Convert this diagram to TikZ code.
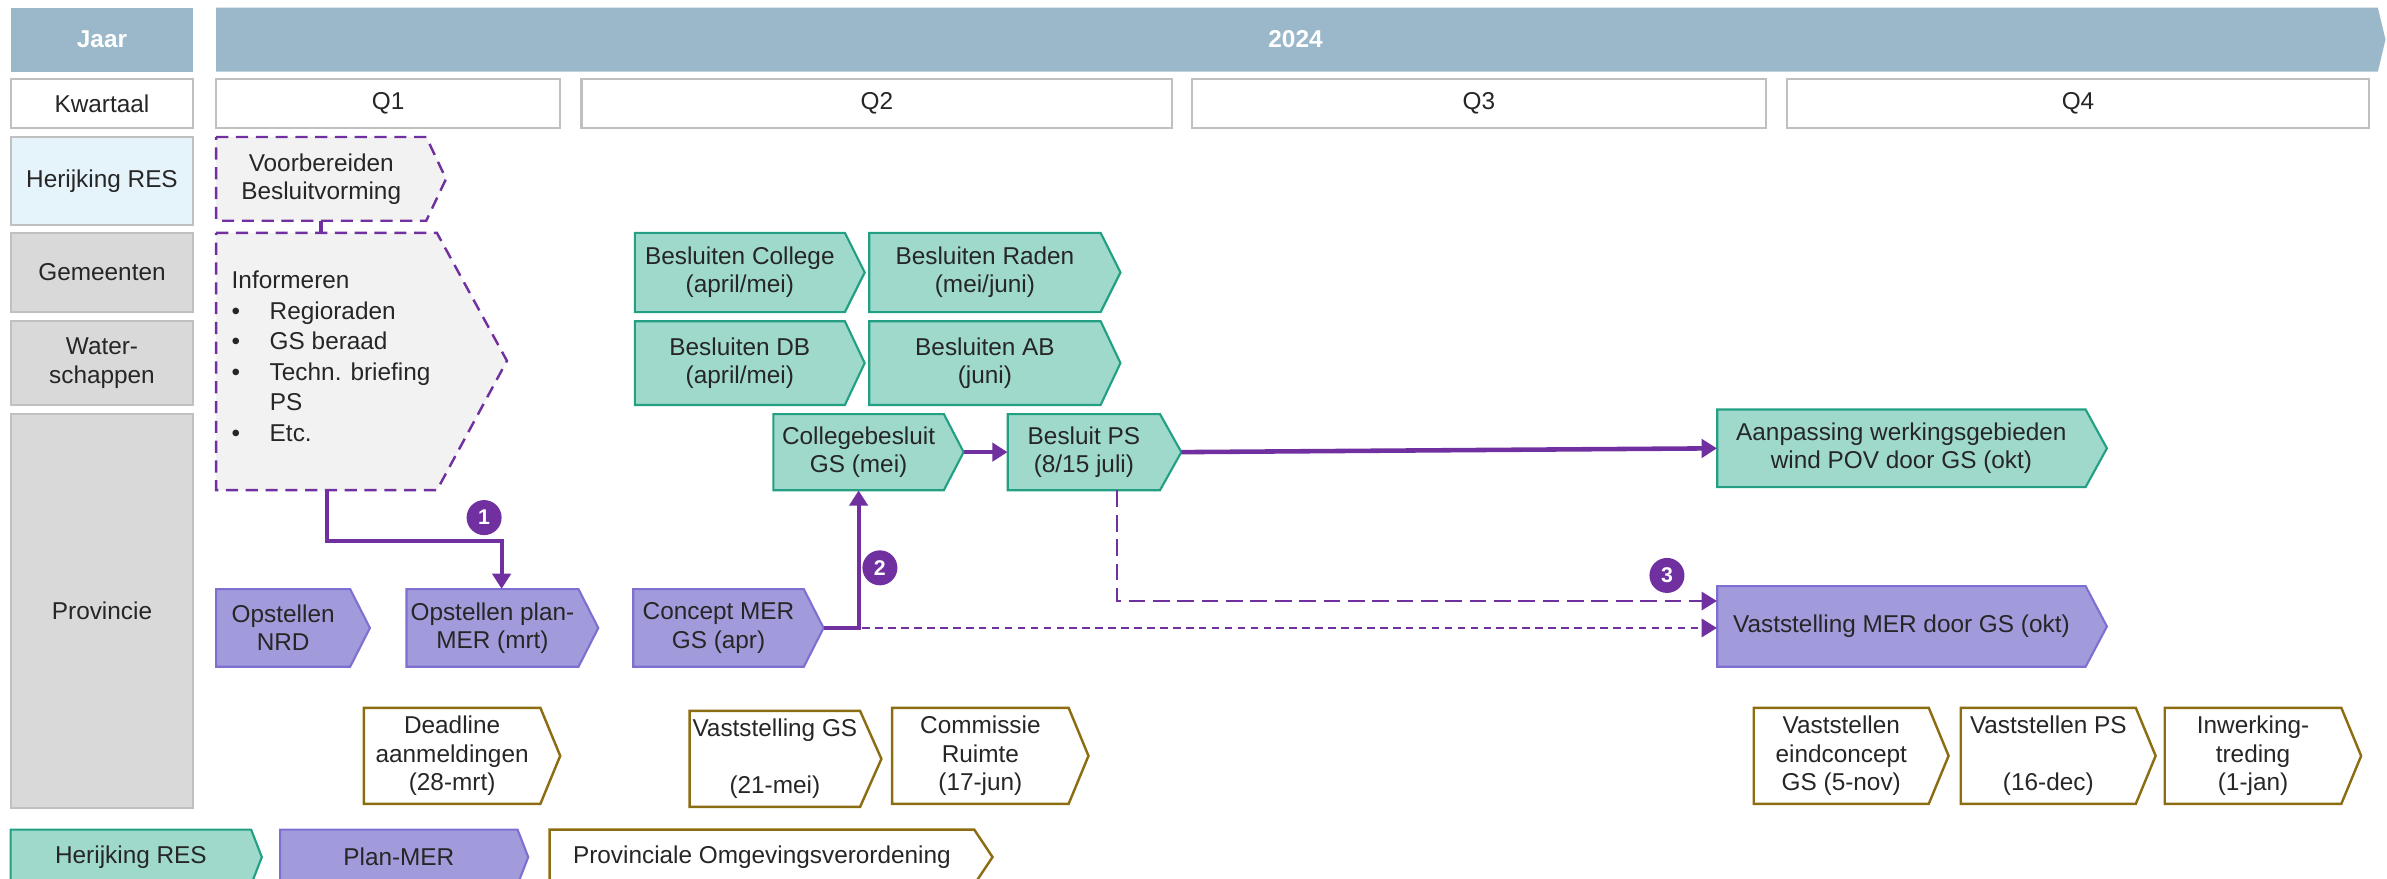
\documentclass[tikz,border=0pt]{standalone}
\usepackage{fontspec}
\setmainfont{Liberation Sans}
\usetikzlibrary{arrows.meta,calc}
\definecolor{yearblue}{HTML}{9BB8CB}
\definecolor{labgray}{HTML}{D9D9D9}
\definecolor{labline}{HTML}{C0C0C0}
\definecolor{reslight}{HTML}{E5F3FA}
\definecolor{grfill}{HTML}{9ED9CC}
\definecolor{grline}{HTML}{23A083}
\definecolor{pufill}{HTML}{A29BDB}
\definecolor{puline}{HTML}{7D70D0}
\definecolor{darkpu}{HTML}{7030A0}
\definecolor{olive}{HTML}{8C6D12}
\definecolor{lightfill}{HTML}{F2F2F2}
\definecolor{txtc}{HTML}{262626}
\newcommand\chev[8]{%
  \pgfmathsetmacro\cw{#5-#3}\pgfmathsetmacro\ch{#6-#4}%
  \pgfmathsetmacro\cx{(#3+#5)/2}\pgfmathsetmacro\cy{(#4+#6)/2}%
  \draw[#2] (#3,#4) -- (#5,#4) -- (#7,\cy) -- (#5,#6) -- (#3,#6) -- cycle;
  \node[txt, minimum width=\cw pt, minimum height=\ch pt] (#1) at (\cx,\cy) {#8};
  \coordinate (#1-tip) at (#7,\cy);
}
\begin{document}
\begin{tikzpicture}[x=1pt,y=-1pt,
  txt/.style={inner sep=0pt, align=center, text=txtc, font=\fontsize{16}{18.6}\selectfont},
  lab/.style={txt, draw=labline, line width=1.4pt, fill=labgray},
  qbox/.style={txt, draw=labline, line width=1.4pt, fill=white},
  hdr/.style={inner sep=0pt, text=white, font=\fontsize{16}{18}\selectfont\bfseries},
  grbox/.style={fill=grfill, draw=grline, line width=1.4pt},
  pubox/.style={fill=pufill, draw=puline, line width=1.4pt},
  olbox/.style={fill=white, draw=olive, line width=1.6pt},
  dashbox/.style={fill=lightfill, draw=darkpu, line width=1.6pt, dash pattern=on 8pt off 5pt},
  conn/.style={draw=darkpu, line width=2.6pt},
  dconn/.style={draw=darkpu, line width=1.4pt, dash pattern=on 11pt off 5pt},
  sconn/.style={draw=darkpu, line width=1.6pt, dash pattern=on 5pt off 3.5pt},
  tip/.style={-{Triangle[length=10pt,width=12pt]}},
  num/.style={circle, fill=darkpu, inner sep=0pt, minimum size=23pt, text=white, font=\fontsize{14}{14}\selectfont\bfseries}
]
\useasboundingbox (0,0) rectangle (1568,577);
% header
\node[hdr, fill=yearblue, minimum width=120pt, minimum height=42pt] (jaar) at (67,26) {Jaar};
\fill[yearblue] (142,5) -- (1562,5) -- (1567,26) -- (1562,47) -- (142,47) -- cycle;
\node[hdr] (y2024) at (851,26) {2024};
% kwartaal row
\node[qbox, minimum width=120pt, minimum height=32pt] (kw) at (67,68) {Kwartaal};
\node[qbox, minimum width=226pt, minimum height=32pt] (q1) at (255,68) {Q1};
\node[qbox, minimum width=388pt, minimum height=32pt] (q2) at (576,68) {Q2};
\node[qbox, minimum width=377pt, minimum height=32pt] (q3) at (971.5,68) {Q3};
\node[qbox, minimum width=382pt, minimum height=32pt] (q4) at (1365,68) {Q4};
% row labels
\node[lab, fill=reslight, minimum width=120pt, minimum height=58pt] (res) at (67,119) {Herijking RES};
\node[lab, minimum width=120pt, minimum height=52pt] (gem) at (67,179) {Gemeenten};
\node[lab, minimum width=120pt, minimum height=55pt] (ws) at (67,238.5) {Water-\\schappen};
\node[lab, minimum width=120pt, minimum height=259pt] (prov) at (67,401.5) {Provincie};
% dashed gray boxes
\chev{vb}{dashbox}{142}{90}{280}{145}{293}{Voorbereiden\\Besluitvorming}
\draw[dashbox] (142,153) -- (287,153) -- (333,237) -- (287,322) -- (142,322) -- cycle;
\node[txt, minimum width=145pt, minimum height=169pt] (inf) at (214.5,237.5) {};
\node[txt, anchor=west, align=left, font=\fontsize{16}{20}\selectfont] (inftxt) at (152,234) {Informeren\\
\makebox[25pt][l]{\textbullet}Regioraden\\
\makebox[25pt][l]{\textbullet}GS beraad\\
\makebox[25pt][l]{\textbullet}Techn. briefing\\
\makebox[25pt][l]{}PS\\
\makebox[25pt][l]{\textbullet}Etc.};
\draw[conn, line width=2.4pt] (vb.south) -- (vb.south |- inf.north);
% gemeenten / waterschappen
\chev{bcol}{grbox}{417}{153}{555}{205}{568}{Besluiten College\\(april/mei)}
\chev{brad}{grbox}{571}{153}{723}{205}{736}{Besluiten Raden\\(mei/juni)}
\chev{bdb}{grbox}{417}{211}{555}{266}{568}{Besluiten DB\\(april/mei)}
\chev{bab}{grbox}{571}{211}{723}{266}{736}{Besluiten AB\\(juni)}
% provincie green
\chev{cgs}{grbox}{508}{272}{620}{322}{633}{Collegebesluit\\GS (mei)}
\chev{bps}{grbox}{662}{272}{762}{322}{776}{Besluit PS\\(8/15 juli)}
\chev{aan}{grbox}{1128}{269}{1370}{320}{1384}{Aanpassing werkingsgebieden\\wind POV door GS (okt)}
% provincie purple
\chev{nrd}{pubox}{142}{387}{230}{438}{243}{Opstellen\\NRD}
\chev{opm}{pubox}{267}{387}{380}{438}{393}{Opstellen plan-\\MER (mrt)}
\chev{cmer}{pubox}{416}{387}{528}{438}{541}{Concept MER\\GS (apr)}
\chev{vmer}{pubox}{1128}{385}{1370}{438}{1384}{Vaststelling MER door GS (okt)}
% POV boxes
\chev{dl}{olbox}{239}{465}{355}{528}{368}{Deadline\\aanmeldingen\\(28-mrt)}
\chev{vgs}{olbox}{453}{467}{565}{530}{579}{Vaststelling GS\\[18.6pt](21-mei)}
\chev{cr}{olbox}{586}{465}{702}{528}{715}{Commissie\\Ruimte\\(17-jun)}
\chev{vec}{olbox}{1152}{465}{1267}{528}{1280}{Vaststellen\\eindconcept\\GS (5-nov)}
\chev{vps}{olbox}{1288}{465}{1403}{528}{1416}{Vaststellen PS\\[18.6pt](16-dec)}
\chev{iwt}{olbox}{1422}{465}{1538}{528}{1551}{Inwerking-\\treding\\(1-jan)}
% legend
\chev{lres}{grbox}{7}{545}{165}{581}{172}{Herijking RES}
\chev{lmer}{pubox}{184}{545}{340}{581}{347}{Plan-MER}
\chev{lpov}{olbox}{361}{545}{640}{581}{652}{Provinciale Omgevingsverordening}
% connectors
\coordinate (c1) at ($(opm.north)+(6,0)$);
\draw[conn, tip] (inf.south) -- ++(0,33) -| (c1);
\node[num] (n1) at (318,340) {1};
\draw[conn, tip] (cmer-tip) -| (cgs.south);
\node[num] (n2) at (578,373) {2};
\draw[sconn, tip] (cmer-tip) -- (cmer-tip -| vmer.west);
\draw[conn, tip] (cgs-tip) -- (bps.west);
\draw[conn, line width=3pt, tip] (bps-tip) -- (aan.west);
\coordinate (d3) at ($(bps.south)+(22,0)$);
\coordinate (e3) at ($(vmer.north west)+(0,10)$);
\draw[dconn, tip] (d3) |- (e3);
\node[num] (n3) at (1095,378) {3};
\end{tikzpicture}
\end{document}
